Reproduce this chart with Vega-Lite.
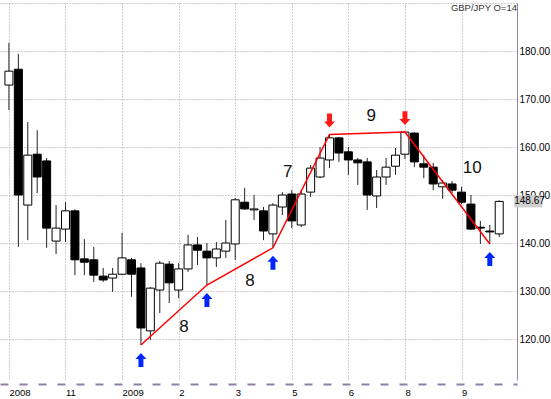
{
  "$schema": "https://vega.github.io/schema/vega-lite/v6.json",
  "width": 517,
  "height": 377,
  "autosize": "none",
  "padding": {"left": 0, "top": 3, "right": 34, "bottom": 19},
  "background": "#ffffff",
  "config": {"view": {"stroke": null}, "font": "Liberation Sans"},
  "title": {"text": "GBP/JPY O=14", "anchor": "end", "frame": "group", "orient": "top", "offset": -10, "dy": 12, "baseline": "alphabetic", "fontSize": 9.5, "fontWeight": "normal", "color": "#333333", "font": "Liberation Sans"},
  "datasets": {
    "candles": [
      {"date": "2008-10-13", "open": 172.9, "high": 181.7, "low": 167.7, "close": 175.8},
      {"date": "2008-10-20", "open": 176.2, "high": 179.4, "low": 139.2, "close": 150.0},
      {"date": "2008-10-27", "open": 147.9, "high": 165.2, "low": 140.6, "close": 158.3},
      {"date": "2008-11-03", "open": 158.5, "high": 163.5, "low": 150.4, "close": 153.75},
      {"date": "2008-11-10", "open": 157.1, "high": 157.7, "low": 139.0, "close": 143.1},
      {"date": "2008-11-17", "open": 140.4, "high": 147.9, "low": 137.7, "close": 143.1},
      {"date": "2008-11-24", "open": 142.9, "high": 148.5, "low": 140.2, "close": 146.7},
      {"date": "2008-12-01", "open": 146.7, "high": 147.0, "low": 133.3, "close": 136.5},
      {"date": "2008-12-08", "open": 136.7, "high": 140.8, "low": 133.3, "close": 136.0},
      {"date": "2008-12-15", "open": 136.5, "high": 139.2, "low": 131.9, "close": 133.3},
      {"date": "2008-12-22", "open": 133.1, "high": 134.8, "low": 131.9, "close": 132.3},
      {"date": "2008-12-29", "open": 132.7, "high": 134.8, "low": 129.8, "close": 133.5},
      {"date": "2009-01-05", "open": 133.5, "high": 142.1, "low": 133.3, "close": 136.9},
      {"date": "2009-01-12", "open": 136.5, "high": 136.9, "low": 128.8, "close": 133.5},
      {"date": "2009-01-19", "open": 134.8, "high": 135.8, "low": 118.75, "close": 122.3},
      {"date": "2009-01-26", "open": 121.7, "high": 130.8, "low": 119.8, "close": 130.6},
      {"date": "2009-02-02", "open": 130.2, "high": 136.25, "low": 125.4, "close": 135.8},
      {"date": "2009-02-09", "open": 135.6, "high": 136.25, "low": 127.5, "close": 131.7},
      {"date": "2009-02-16", "open": 130.2, "high": 135.8, "low": 128.5, "close": 134.6},
      {"date": "2009-02-23", "open": 134.6, "high": 141.7, "low": 134.0, "close": 139.6},
      {"date": "2009-03-02", "open": 139.6, "high": 141.25, "low": 135.4, "close": 138.5},
      {"date": "2009-03-09", "open": 138.3, "high": 140.0, "low": 131.25, "close": 136.9},
      {"date": "2009-03-16", "open": 136.9, "high": 140.2, "low": 135.0, "close": 138.75},
      {"date": "2009-03-23", "open": 138.3, "high": 144.8, "low": 136.9, "close": 140.0},
      {"date": "2009-03-30", "open": 139.8, "high": 149.4, "low": 136.5, "close": 149.0},
      {"date": "2009-04-06", "open": 148.5, "high": 151.5, "low": 146.9, "close": 147.1},
      {"date": "2009-04-13", "open": 146.9, "high": 150.0, "low": 144.8, "close": 147.1},
      {"date": "2009-04-20", "open": 146.7, "high": 147.5, "low": 140.6, "close": 142.5},
      {"date": "2009-04-27", "open": 141.9, "high": 148.3, "low": 139.0, "close": 147.9},
      {"date": "2009-05-04", "open": 147.5, "high": 150.6, "low": 145.8, "close": 150.0},
      {"date": "2009-05-11", "open": 150.2, "high": 151.0, "low": 143.1, "close": 144.6},
      {"date": "2009-05-18", "open": 143.75, "high": 151.0, "low": 143.3, "close": 150.2},
      {"date": "2009-05-25", "open": 150.6, "high": 156.25, "low": 149.6, "close": 155.6},
      {"date": "2009-06-01", "open": 153.75, "high": 160.0, "low": 153.5, "close": 157.7},
      {"date": "2009-06-08", "open": 157.3, "high": 162.6, "low": 155.6, "close": 161.9},
      {"date": "2009-06-15", "open": 161.9, "high": 162.1, "low": 156.9, "close": 158.75},
      {"date": "2009-06-22", "open": 159.0, "high": 160.0, "low": 154.2, "close": 157.3},
      {"date": "2009-06-29", "open": 157.3, "high": 157.7, "low": 152.1, "close": 156.7},
      {"date": "2009-07-06", "open": 156.9, "high": 157.7, "low": 146.9, "close": 150.0},
      {"date": "2009-07-13", "open": 149.8, "high": 155.2, "low": 147.3, "close": 153.75},
      {"date": "2009-07-20", "open": 153.75, "high": 157.7, "low": 152.1, "close": 155.8},
      {"date": "2009-07-27", "open": 156.0, "high": 159.8, "low": 154.2, "close": 158.3},
      {"date": "2009-08-03", "open": 158.5, "high": 163.1, "low": 157.5, "close": 163.1},
      {"date": "2009-08-10", "open": 162.9, "high": 163.1, "low": 155.8, "close": 156.9},
      {"date": "2009-08-17", "open": 156.5, "high": 158.3, "low": 153.5, "close": 155.8},
      {"date": "2009-08-24", "open": 155.8, "high": 156.7, "low": 151.0, "close": 152.3},
      {"date": "2009-08-31", "open": 151.7, "high": 153.1, "low": 149.2, "close": 152.5},
      {"date": "2009-09-07", "open": 152.3, "high": 152.9, "low": 150.4, "close": 151.0},
      {"date": "2009-09-14", "open": 150.6, "high": 151.7, "low": 148.1, "close": 148.5},
      {"date": "2009-09-21", "open": 148.1, "high": 150.0, "low": 142.7, "close": 142.9},
      {"date": "2009-09-28", "open": 143.3, "high": 144.6, "low": 139.8, "close": 143.1},
      {"date": "2009-10-05", "open": 142.5, "high": 143.75, "low": 139.8, "close": 142.3},
      {"date": "2009-10-12", "open": 141.9, "high": 148.9, "low": 141.25, "close": 148.67}
    ],
    "pivots": [
      {"date": "2009-01-19", "price": 118.75, "type": "buy"},
      {"date": "2009-03-09", "price": 131.25, "type": "buy"},
      {"date": "2009-04-27", "price": 139.0, "type": "buy"},
      {"date": "2009-06-08", "price": 162.6, "type": "sell"},
      {"date": "2009-08-03", "price": 163.1, "type": "sell"},
      {"date": "2009-10-05", "price": 139.8, "type": "buy"}
    ],
    "labels": [
      {"date": "2009-02-20", "price": 122.5, "text": "8"},
      {"date": "2009-04-10", "price": 132.1, "text": "8"},
      {"date": "2009-05-08", "price": 154.8, "text": "7"},
      {"date": "2009-07-09", "price": 166.5, "text": "9"},
      {"date": "2009-09-22", "price": 155.7, "text": "10"}
    ]
  },
  "encoding": {
    "x": {
      "field": "date",
      "type": "temporal",
      "title": null,
      "scale": {
        "type": "utc",
        "domain": [
          {"year": 2008, "month": 10, "date": 10, "hours": 2, "minutes": 6, "utc": true},
          {"year": 2009, "month": 10, "date": 21, "hours": 11, "minutes": 42, "utc": true}
        ]
      },
      "axis": {
        "title": null,
        "values": [
          {"year": 2008, "month": 10, "date": 13, "utc": true},
          {"year": 2008, "month": 11, "date": 24, "utc": true},
          {"year": 2009, "month": 1, "date": 5, "utc": true},
          {"year": 2009, "month": 2, "date": 16, "utc": true},
          {"year": 2009, "month": 3, "date": 30, "utc": true},
          {"year": 2009, "month": 5, "date": 11, "utc": true},
          {"year": 2009, "month": 6, "date": 22, "utc": true},
          {"year": 2009, "month": 8, "date": 3, "utc": true},
          {"year": 2009, "month": 9, "date": 14, "utc": true}
        ],
        "labelExpr": "datum.index == 0 || utcFormat(datum.value, '%m') == '01' ? utcFormat(datum.value, '%Y') : utcFormat(datum.value, '%-m')",
        "grid": true,
        "gridColor": "#a99aae",
        "gridDash": [1, 2],
        "gridWidth": 1,
        "ticks": false,
        "domain": true,
        "domainColor": "#8c82a8",
        "domainDash": [8, 11],
        "domainWidth": 2,
        "offset": 4,
        "labelAlign": "left",
        "labelBaseline": "top",
        "labelPadding": 3,
        "labelFontSize": 9.5,
        "labelFont": "Liberation Sans",
        "labelColor": "#000000",
        "labelOverlap": false,
        "labelBound": false,
        "labelFlush": false
      }
    }
  },
  "layer": [
    {
      "data": {"name": "candles"},
      "mark": {"type": "rule", "color": "#222222", "strokeWidth": 1, "clip": true},
      "encoding": {
        "y": {
          "field": "low",
          "type": "quantitative",
          "title": null,
          "scale": {"domain": [111.46, 190], "zero": false, "nice": false},
          "axis": {
            "title": null,
            "orient": "right",
            "values": [120, 130, 140, 150, 160, 170, 180, 190],
            "labelExpr": "datum.value >= 190 ? '' : format(datum.value, '.2f')",
            "grid": true,
            "gridColor": "#a99aae",
            "gridDash": [1, 2],
            "gridWidth": 1,
            "ticks": false,
            "domain": true,
            "domainColor": "#8c82a8",
            "domainWidth": 1,
            "labelPadding": 2,
            "labelFontSize": 10,
            "labelFont": "Liberation Sans",
            "labelColor": "#000000",
            "labelBound": false,
            "labelFlush": false,
            "labelOverlap": false
          }
        },
        "y2": {"field": "high"}
      }
    },
    {
      "data": {"name": "candles"},
      "mark": {"type": "bar", "width": 8, "stroke": "#000000", "strokeWidth": 1, "clip": true},
      "encoding": {
        "y": {"field": "open", "type": "quantitative", "title": null, "scale": {"domain": [111.46, 190], "zero": false, "nice": false}},
        "y2": {"field": "close"},
        "fill": {"condition": {"test": "datum.open > datum.close", "value": "#000000"}, "value": "#ffffff"}
      }
    },
    {
      "data": {"name": "pivots"},
      "mark": {"type": "line", "color": "#ff0000", "strokeWidth": 1.5},
      "encoding": {
        "y": {"field": "price", "type": "quantitative", "title": null, "scale": {"domain": [111.46, 190], "zero": false, "nice": false}}
      }
    },
    {
      "data": {"name": "pivots"},
      "transform": [{"filter": "datum.type == 'buy'"}],
      "mark": {"type": "point", "shape": "M0,-1.27L1,-0.18L0.45,-0.18L0.45,1.27L-0.45,1.27L-0.45,-0.18L-1,-0.18Z", "size": 121, "filled": true, "color": "#0026ff", "opacity": 1, "yOffset": 15, "strokeWidth": 0},
      "encoding": {
        "y": {"field": "price", "type": "quantitative", "title": null, "scale": {"domain": [111.46, 190], "zero": false, "nice": false}}
      }
    },
    {
      "data": {"name": "pivots"},
      "transform": [{"filter": "datum.type == 'sell'"}],
      "mark": {"type": "point", "shape": "M0,1.27L1,0.18L0.45,0.18L0.45,-1.27L-0.45,-1.27L-0.45,0.18L-1,0.18Z", "size": 121, "filled": true, "color": "#ff1a1a", "opacity": 1, "yOffset": -14, "strokeWidth": 0},
      "encoding": {
        "y": {"field": "price", "type": "quantitative", "title": null, "scale": {"domain": [111.46, 190], "zero": false, "nice": false}}
      }
    },
    {
      "data": {"name": "labels"},
      "mark": {"type": "text", "fontSize": 17, "color": "#111111", "font": "Liberation Sans", "baseline": "middle", "align": "center"},
      "encoding": {
        "y": {"field": "price", "type": "quantitative", "title": null, "scale": {"domain": [111.46, 190], "zero": false, "nice": false}},
        "text": {"field": "text"}
      }
    },
    {
      "data": {"name": "candles"},
      "transform": [{"filter": "time(datum.date) == utc(2009, 9, 12)"}],
      "mark": {"type": "point", "shape": "M-1,-0.43L1,-0.43L1,0.43L-1,0.43Z", "size": 784, "filled": true, "color": "#cfcfcf", "opacity": 1, "xOffset": 29, "strokeWidth": 0},
      "encoding": {
        "y": {"field": "close", "type": "quantitative", "title": null, "scale": {"domain": [111.46, 190], "zero": false, "nice": false}}
      }
    },
    {
      "data": {"name": "candles"},
      "transform": [{"filter": "time(datum.date) == utc(2009, 9, 12)"}],
      "mark": {"type": "text", "align": "left", "baseline": "middle", "dx": 15, "fontSize": 10, "color": "#000000", "font": "Liberation Sans"},
      "encoding": {
        "y": {"field": "close", "type": "quantitative", "title": null, "scale": {"domain": [111.46, 190], "zero": false, "nice": false}},
        "text": {"field": "close", "type": "quantitative", "format": ".2f"}
      }
    }
  ]
}
